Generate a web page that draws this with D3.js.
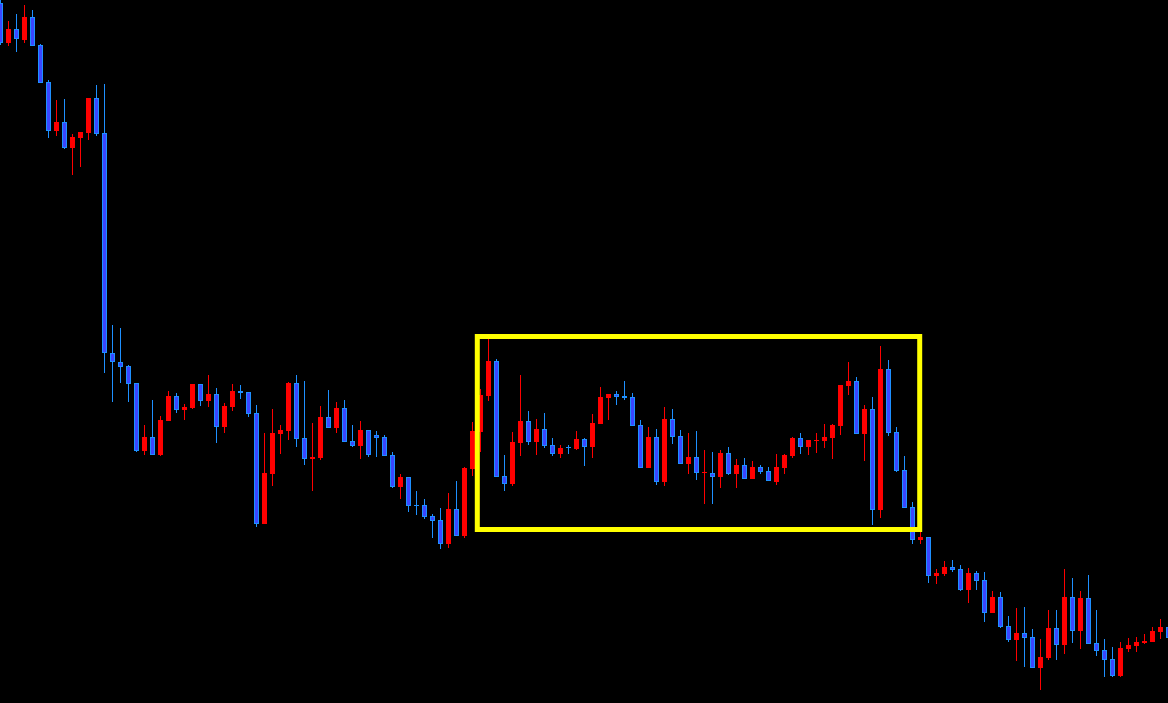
<!DOCTYPE html>
<html>
<head>
<meta charset="utf-8">
<style>
  html, body { margin: 0; padding: 0; background: #000; overflow: hidden; }
  #chart { width: 1168px; height: 703px; }
</style>
<script src="https://cdn.jsdelivr.net/npm/d3@7/dist/d3.min.js"></script>
</head>
<body>
<div id="chart"></div>
<script>
// -------------------------------------------------------------------------
// Data (one value per bar, oldest first)

const opens = [
  117.97, 117.57, 117.71, 117.60, 117.83, 117.55, 117.18, 116.69, 116.78, 116.52,
  116.62, 116.67, 117.02, 116.67, 114.47, 114.38, 114.34, 114.17, 113.49, 113.63,
  113.45, 113.79, 114.04, 113.90, 113.92, 114.16, 113.99, 114.06, 113.73, 113.93,
  114.09, 114.08, 113.87, 112.76, 113.26, 113.66, 113.69, 114.17, 113.62, 113.41,
  113.42, 113.83, 113.72, 113.92, 113.59, 113.54, 113.70, 113.65, 113.63, 113.45,
  113.13, 113.23, 112.95, 112.95, 112.84, 112.80, 112.56, 112.91, 112.64, 113.31,
  113.68, 114.04, 114.39, 113.24, 113.16, 113.57, 113.79, 113.58, 113.71, 113.55,
  113.46, 113.53, 113.51, 113.61, 113.53, 113.76, 114.02, 114.06, 114.04, 114.03,
  113.75, 113.32, 113.63, 113.18, 113.81, 113.64, 113.36, 113.43, 113.27, 113.27,
  113.23, 113.47, 113.26, 113.35, 113.21, 113.33, 113.29, 113.18, 113.32, 113.44,
  113.62, 113.53, 113.59, 113.59, 113.62, 113.74, 114.14, 114.19, 113.66, 113.91,
  112.90, 114.31, 113.68, 113.30, 112.93, 112.60, 112.63, 112.24, 112.26, 112.33,
  112.31, 112.10, 112.27, 112.20, 111.87, 112.03, 111.74, 111.60, 111.67, 111.63,
  111.32, 111.42, 111.72, 111.55, 112.03, 111.69, 112.02, 111.57, 111.50, 111.41,
  111.24, 111.51, 111.54, 111.57, 111.58, 111.68, 111.73
];

const highs = [
  118.00, 117.79, 117.86, 117.95, 117.90, 117.56, 117.20, 117.00, 117.01, 116.66,
  116.68, 117.02, 117.15, 117.16, 114.75, 114.72, 114.35, 114.17, 113.75, 114.00,
  113.84, 114.09, 114.07, 113.96, 114.16, 114.16, 114.25, 114.12, 113.97, 114.16,
  114.15, 114.08, 113.95, 113.67, 113.91, 113.75, 114.18, 114.25, 114.19, 113.77,
  113.94, 114.10, 113.98, 114.00, 113.75, 113.79, 113.70, 113.69, 113.65, 113.48,
  113.26, 113.23, 113.09, 113.01, 112.86, 112.92, 113.07, 113.19, 113.33, 113.78,
  114.11, 114.61, 114.41, 113.45, 113.68, 114.25, 113.89, 113.81, 113.87, 113.62,
  113.55, 113.55, 113.69, 113.62, 113.86, 114.13, 114.06, 114.09, 114.19, 114.07,
  113.80, 113.73, 113.71, 113.93, 113.91, 113.70, 113.67, 113.69, 113.50, 113.48,
  113.50, 113.53, 113.41, 113.42, 113.39, 113.35, 113.33, 113.46, 113.46, 113.63,
  113.67, 113.60, 113.67, 113.76, 113.76, 114.15, 114.38, 114.23, 113.95, 114.03,
  114.54, 114.40, 113.73, 113.44, 112.98, 112.68, 112.63, 112.31, 112.39, 112.40,
  112.35, 112.32, 112.29, 112.28, 112.09, 112.08, 111.84, 111.92, 111.93, 111.71,
  111.61, 111.90, 111.90, 112.31, 112.22, 112.09, 112.25, 111.90, 111.61, 111.53,
  111.58, 111.62, 111.63, 111.66, 111.73, 111.81, 111.73
];

const lows = [
  117.55, 117.54, 117.48, 117.57, 117.54, 117.17, 116.62, 116.64, 116.51, 116.25,
  116.33, 116.60, 116.64, 114.27, 113.98, 114.17, 113.98, 113.48, 113.45, 113.45,
  113.44, 113.79, 113.87, 113.80, 113.91, 113.94, 113.93, 113.57, 113.67, 113.89,
  114.01, 113.83, 112.73, 112.76, 113.14, 113.46, 113.60, 113.53, 113.35, 113.09,
  113.40, 113.72, 113.67, 113.58, 113.53, 113.41, 113.43, 113.43, 113.44, 113.12,
  113.01, 112.88, 112.85, 112.81, 112.62, 112.51, 112.52, 112.64, 112.62, 113.24,
  113.48, 113.99, 113.23, 113.09, 113.14, 113.44, 113.55, 113.45, 113.52, 113.44,
  113.42, 113.46, 113.50, 113.34, 113.42, 113.76, 113.80, 113.95, 114.00, 113.74,
  113.32, 113.32, 113.15, 113.14, 113.56, 113.36, 113.26, 113.20, 112.96, 112.96,
  113.12, 113.25, 113.12, 113.21, 113.21, 113.26, 113.19, 113.15, 113.26, 113.42,
  113.46, 113.45, 113.47, 113.52, 113.41, 113.65, 114.05, 113.66, 113.39, 112.75,
  112.82, 113.64, 113.28, 112.92, 112.56, 112.56, 112.17, 112.16, 112.24, 112.28,
  112.09, 111.97, 112.10, 111.78, 111.87, 111.72, 111.58, 111.39, 111.33, 111.32,
  111.10, 111.40, 111.40, 111.46, 111.57, 111.51, 111.56, 111.44, 111.23, 111.23,
  111.23, 111.48, 111.48, 111.56, 111.58, 111.61, 111.60
];

const closes = [
  117.57, 117.71, 117.61, 117.83, 117.54, 117.17, 116.69, 116.78, 116.52, 116.63,
  116.68, 117.02, 116.66, 114.47, 114.38, 114.33, 114.16, 113.49, 113.63, 113.45,
  113.80, 114.04, 113.90, 113.93, 114.16, 113.99, 114.06, 113.73, 113.94, 114.09,
  114.07, 113.86, 112.76, 113.27, 113.67, 113.70, 114.17, 113.61, 113.41, 113.43,
  113.83, 113.72, 113.92, 113.58, 113.54, 113.70, 113.45, 113.62, 113.44, 113.13,
  113.23, 112.94, 112.94, 112.83, 112.79, 112.56, 112.91, 112.64, 113.32, 113.69,
  114.05, 114.39, 113.23, 113.16, 113.58, 113.79, 113.58, 113.71, 113.54, 113.46,
  113.52, 113.52, 113.61, 113.53, 113.77, 114.03, 114.06, 114.03, 114.02, 113.74,
  113.32, 113.63, 113.18, 113.81, 113.63, 113.36, 113.43, 113.27, 113.28, 113.23,
  113.47, 113.26, 113.35, 113.21, 113.33, 113.28, 113.19, 113.33, 113.45, 113.62,
  113.53, 113.60, 113.60, 113.63, 113.75, 114.15, 114.19, 113.66, 113.91, 112.90,
  114.31, 113.67, 113.29, 112.92, 112.60, 112.63, 112.24, 112.27, 112.33, 112.30,
  112.10, 112.27, 112.19, 111.87, 112.03, 111.73, 111.60, 111.67, 111.62, 111.32,
  111.43, 111.72, 111.55, 112.03, 111.69, 112.02, 111.56, 111.49, 111.40, 111.24,
  111.52, 111.55, 111.58, 111.59, 111.69, 111.73, 111.62
];

// range box drawn on the chart: [first bar, last bar] and [top price, bottom price]
const boxBars = [59.6, 114.9];
const boxPrices = [114.635, 112.705];

// -------------------------------------------------------------------------
// Settings

const width = 1168;
const height = 703;
const upColor = '#ff0000';
const downFill = '#3a46ff';
const downLine = '#1e90ff';
const boxColor = '#ffff00';

const bars = opens.map((o, i) => ({
  index: i,
  open: o,
  high: highs[i],
  low: lows[i],
  close: closes[i]
}));

// -------------------------------------------------------------------------
// Scales

const x = d3.scaleLinear()
  .domain([0, bars.length - 1])
  .range([0.5, 0.5 + 8 * (bars.length - 1)]);

const y = d3.scaleLinear()
  .domain([110.97, 118.00])
  .range([height, 0]);

// -------------------------------------------------------------------------
// Drawing

const svg = d3.select('#chart').append('svg')
  .attr('width', width)
  .attr('height', height)
  .style('display', 'block');

svg.append('rect')
  .attr('width', width)
  .attr('height', height)
  .attr('fill', '#000');

const candle = svg.append('g').selectAll('g')
  .data(bars)
  .enter().append('g');

candle.append('line')
  .attr('x1', d => x(d.index))
  .attr('x2', d => x(d.index))
  .attr('y1', d => Math.round(y(d.high)))
  .attr('y2', d => Math.round(y(d.low)))
  .attr('stroke', d => d.close >= d.open ? upColor : downLine)
  .attr('stroke-width', 1);

candle.each(function(d) {
  let g = d3.select(this);
  let top = Math.round(y(Math.max(d.open, d.close)));
  let bottom = Math.round(y(Math.min(d.open, d.close)));
  let h = Math.max(1, bottom - top);
  let cx = x(d.index);
  if (d.close >= d.open) {
    g.append('rect')
      .attr('x', cx - 2.5)
      .attr('y', top)
      .attr('width', 5)
      .attr('height', h)
      .attr('fill', upColor);
  } else if (h < 2) {
    g.append('rect')
      .attr('x', cx - 2.5)
      .attr('y', top)
      .attr('width', 5)
      .attr('height', h)
      .attr('fill', downLine);
  } else {
    g.append('rect')
      .attr('x', cx - 2)
      .attr('y', top + 0.5)
      .attr('width', 4)
      .attr('height', h - 1)
      .attr('fill', downFill)
      .attr('stroke', downLine)
      .attr('stroke-width', 1);
  }
});

// yellow range box
svg.append('rect')
  .attr('x', x(boxBars[0]))
  .attr('y', y(boxPrices[0]))
  .attr('width', x(boxBars[1]) - x(boxBars[0]))
  .attr('height', y(boxPrices[1]) - y(boxPrices[0]))
  .attr('fill', 'none')
  .attr('stroke', boxColor)
  .attr('stroke-width', 5);
</script>
</body>
</html>
